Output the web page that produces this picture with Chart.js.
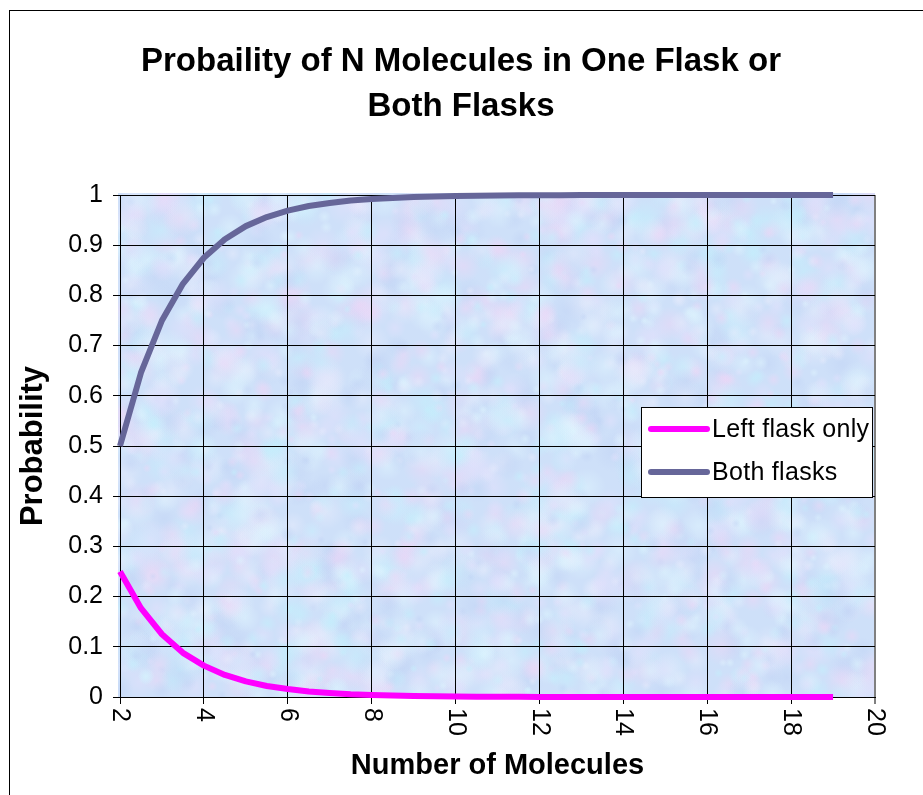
<!DOCTYPE html>
<html>
<head>
<meta charset="utf-8">
<script src="https://cdn.jsdelivr.net/npm/chart.js@4.4.1/dist/chart.umd.min.js"></script>
<style>
  html, body { margin: 0; padding: 0; background: #ffffff; }
  #wrap { position: relative; width: 923px; height: 795px; overflow: hidden; }
  #frame { position: absolute; left: 9px; top: 10px; width: 940px; height: 800px; border: 1px solid #000; box-sizing: border-box; }
  canvas { position: absolute; left: 0; top: 0; }
</style>
</head>
<body>
<div id="wrap">
  <div id="frame"></div>
  <canvas id="c" width="923" height="795"></canvas>
</div>
<script>
// ---- data ----
const moleculesN = [2, 2.5, 3, 3.5, 4, 4.5, 5, 5.5, 6, 6.5, 7, 7.5, 8, 8.5, 9, 9.5, 10, 10.5, 11, 11.5, 12, 12.5, 13, 13.5, 14, 14.5, 15, 15.5, 16, 16.5, 17, 17.5, 18, 18.5, 19];
const leftFlaskOnly = [0.25, 0.177, 0.125, 0.088, 0.0625, 0.044, 0.031, 0.022, 0.016, 0.011, 0.008, 0.0055, 0.004, 0.003, 0.002, 0.0014, 0.001, 0.0007, 0.0005, 0.0003, 0.0002, 0.0002, 0.0001, 0.0001, 0.0001, 0, 0, 0, 0, 0, 0, 0, 0, 0, 0];
const bothFlasks = [0.5, 0.646, 0.75, 0.823, 0.875, 0.912, 0.938, 0.956, 0.969, 0.978, 0.984, 0.989, 0.992, 0.994, 0.996, 0.997, 0.998, 0.9986, 0.999, 0.9994, 0.9996, 0.9997, 0.9998, 0.9999, 0.9999, 1, 1, 1, 1, 1, 1, 1, 1, 1, 1];
const seriesNames = ['Left flask only', 'Both flasks'];
const xTickValues = [2, 4, 6, 8, 10, 12, 14, 16, 18, 20];
const yTickValues = [0, 0.1, 0.2, 0.3, 0.4, 0.5, 0.6, 0.7, 0.8, 0.9, 1];
const chartTitle = ['Probaility of N Molecules in One Flask or', 'Both Flasks'];
const xTitle = 'Number of Molecules';
const yTitle = 'Probability';

const FONT = "'Liberation Sans', Arial, Helvetica, sans-serif";
const colors = ['#FF00FF', '#666699'];

function toPoints(xs, ys) { return xs.map((x, i) => ({ x: x, y: ys[i] })); }

// textured plot-area background (deterministic)
function makeTexture(w, h) {
  const c = document.createElement('canvas');
  c.width = w; c.height = h;
  const g = c.getContext('2d');
  g.fillStyle = 'rgb(206,224,249)';
  g.fillRect(0, 0, w, h);
  const tints = ['rgba(238,214,246,0.5)', 'rgba(196,238,252,0.6)', 'rgba(192,210,244,0.45)', 'rgba(226,224,252,0.55)', 'rgba(222,244,254,0.55)', 'rgba(232,236,252,0.5)'];
  let s = 12345;
  function nxt() { s = (s * 1103515245 + 12345) % 2147483648; return s / 2147483648; }
  for (let i = 0; i < 2600; i++) {
    const x = nxt() * w, y = nxt() * h, r = 4 + nxt() * 16;
    const col = tints[Math.floor(nxt() * tints.length)];
    const rg = g.createRadialGradient(x, y, 0, x, y, r);
    rg.addColorStop(0, col);
    rg.addColorStop(1, col.replace(/[\d.]+\)$/, '0)'));
    g.fillStyle = rg;
    g.beginPath(); g.arc(x, y, r, 0, Math.PI * 2); g.fill();
  }
  return c;
}

const bgPlugin = {
  id: 'plotBg',
  beforeDraw(chart) {
    const a = chart.chartArea, ctx = chart.ctx;
    if (!chart._tex) chart._tex = makeTexture(Math.ceil(a.right - a.left) + 2, Math.ceil(a.bottom - a.top) + 2);
    ctx.save();
    ctx.drawImage(chart._tex, a.left - 2, a.top - 2);
    ctx.restore();
  }
};

const titlePlugin = {
  id: 'bigTitle',
  afterDraw(chart) {
    const ctx = chart.ctx;
    ctx.save();
    ctx.fillStyle = '#000';
    ctx.font = 'bold 33px ' + FONT;
    ctx.textAlign = 'center';
    ctx.textBaseline = 'middle';
    chartTitle.forEach((t, i) => ctx.fillText(t, 461, 62 + i * 45));
    ctx.restore();
  }
};

const xLabelPlugin = {
  id: 'xLabels',
  afterDraw(chart) {
    const sx = chart.scales.x, ctx = chart.ctx, a = chart.chartArea;
    ctx.save();
    ctx.fillStyle = '#000';
    ctx.font = '25px ' + FONT;
    ctx.textAlign = 'left';
    ctx.textBaseline = 'middle';
    xTickValues.forEach(v => {
      const px = sx.getPixelForValue(v);
      ctx.save();
      ctx.translate(px, a.bottom + 11);
      ctx.rotate(Math.PI / 2);
      ctx.fillText(String(v), 0, 0);
      ctx.restore();
    });
    ctx.restore();
  }
};

const legendPlugin = {
  id: 'boxLegend',
  afterDraw(chart) {
    const ctx = chart.ctx;
    const L = 641, T = 407, W = 231, H = 90;
    ctx.save();
    ctx.fillStyle = '#fff';
    ctx.fillRect(L, T, W, H);
    ctx.strokeStyle = '#000';
    ctx.lineWidth = 1;
    ctx.strokeRect(L + 0.5, T + 0.5, W, H);
    ctx.font = '25px ' + FONT;
    try { ctx.letterSpacing = '0.3px'; } catch (e) {}
    ctx.textBaseline = 'middle';
    ctx.textAlign = 'left';
    chart.data.datasets.forEach((ds, i) => {
      const y = T + 22 + i * 43;
      ctx.strokeStyle = ds.borderColor;
      ctx.lineWidth = 6;
      ctx.lineCap = 'round';
      ctx.beginPath(); ctx.moveTo(651, y); ctx.lineTo(707, y); ctx.stroke();
      ctx.fillStyle = '#000';
      ctx.fillText(ds.label, 712, y + 1);
    });
    ctx.restore();
  }
};

new Chart(document.getElementById('c'), {
  type: 'scatter',
  data: {
    datasets: [
      { label: seriesNames[0], data: toPoints(moleculesN, leftFlaskOnly), borderColor: colors[0], backgroundColor: colors[0], borderWidth: 6, showLine: true, pointRadius: 0, borderCapStyle: 'butt', borderJoinStyle: 'round' },
      { label: seriesNames[1], data: toPoints(moleculesN, bothFlasks), borderColor: colors[1], backgroundColor: colors[1], borderWidth: 6, showLine: true, pointRadius: 0, borderCapStyle: 'butt', borderJoinStyle: 'round' }
    ]
  },
  options: {
    responsive: false,
    animation: false,
    devicePixelRatio: 1,
    layout: { padding: { left: 0, right: 48, top: 195, bottom: 0 } },
    clip: false,
    plugins: {
      legend: { display: false },
      tooltip: { enabled: false },
      title: { display: false }
    },
    scales: {
      x: {
        type: 'linear', min: 2, max: 20,
        afterBuildTicks(scale) { scale.ticks = xTickValues.map(v => ({ value: v })); },
        afterFit(scale) { scale.height = 98; },
        ticks: { display: false },
        grid: {
          color: ctx => (ctx.tick && ctx.tick.value === 20) ? '#808080' : '#000',
          lineWidth: ctx => (ctx.tick && ctx.tick.value === 20) ? 2 : 1,
          tickLength: 7, drawTicks: true
        },
        border: { color: '#000', width: 1 },
        title: { display: true, text: xTitle, color: '#000', font: { family: FONT, size: 29, weight: 'bold' }, padding: { top: 0, bottom: 12 } }
      },
      y: {
        type: 'linear', min: 0, max: 1,
        afterBuildTicks(scale) { scale.ticks = yTickValues.map(v => ({ value: v })); },
        afterFit(scale) { scale.width = 120; },
        ticks: { color: '#000', font: { family: FONT, size: 25 }, padding: 10, callback: v => String(+Number(v).toFixed(1)) },
        grid: { color: '#000', lineWidth: 1, tickLength: 7 },
        border: { color: '#000', width: 1 },
        title: { display: true, text: yTitle, color: '#000', font: { family: FONT, size: 31, weight: 'bold' }, padding: { top: 15, bottom: 0 } }
      }
    }
  },
  plugins: [bgPlugin, xLabelPlugin, legendPlugin, titlePlugin]
});
</script>
</body>
</html>
